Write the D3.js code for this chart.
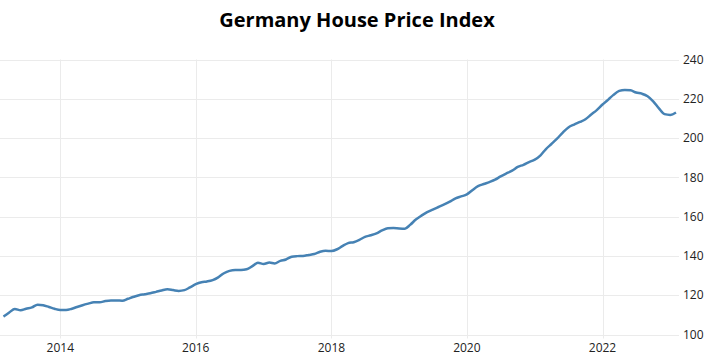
<!DOCTYPE html>
<html>
<head>
<meta charset="utf-8">
<script src="https://cdn.jsdelivr.net/npm/d3@7"></script>
<style>
  body { margin: 0; background: #fff; }
  svg { display: block; font-family: "Open Sans", "DejaVu Sans", sans-serif; }
  .grid line { stroke: #ebebeb; stroke-width: 1; }
  .axis text { fill: #222; font-size: 12px; }
</style>
</head>
<body>
<svg id="chart" width="707" height="360"></svg>
<script>
// monthly index, Mar 2013 .. Feb 2023
var startMonth = '2013-03';
var values = [
  109.1, 111.2, 113.0, 112.3, 113.1, 113.8, 115.2, 114.9, 114.0, 113.1,
  112.5, 112.5, 113.0, 114.0, 114.9, 115.7, 116.4, 116.4, 117.0, 117.3,
  117.3, 117.2, 118.2, 119.2, 120.0, 120.5, 121.0, 121.7, 122.4, 123.0,
  122.6, 122.2, 122.6, 124.0, 125.6, 126.6, 127.0, 127.7, 129.1, 131.2,
  132.4, 132.8, 132.8, 133.2, 134.8, 136.5, 135.9, 136.6, 136.2, 137.5,
  138.2, 139.6, 139.9, 140.0, 140.5, 141.0, 142.1, 142.6, 142.5, 143.4,
  145.0, 146.5, 147.0, 148.2, 149.7, 150.5, 151.5, 153.0, 154.1, 154.2,
  154.0, 153.9, 155.8, 158.5, 160.5, 162.3, 163.6, 164.9, 166.2, 167.6,
  169.3, 170.3, 171.3, 173.6, 175.5, 176.6, 177.6, 178.8, 180.5, 182.0,
  183.4, 185.3, 186.4, 187.8, 189.0, 191.2, 194.3, 197.0, 199.7, 202.8,
  205.4, 206.9, 208.2, 209.6, 212.0, 214.2, 217.1, 219.6, 222.0, 224.0,
  224.5, 224.3, 223.2, 222.6, 221.3, 218.7, 215.1, 212.2, 211.8, 213.0
];
var yTicks = [100, 120, 140, 160, 180, 200, 220, 240];
var xTickYears = [2014, 2016, 2018, 2020, 2022];

var svg = d3.select('#chart');
var parse = d3.timeParse('%Y-%m');
var first = parse(startMonth);

var data = values.map(function(v, i) {
  return { date: d3.timeMonth.offset(first, i), value: v };
});

var x = d3.scaleTime()
  .domain([data[0].date, data[data.length - 1].date])
  .range([3.5, 676]);

var y = d3.scaleLinear()
  .domain([100, 240])
  .range([334.5, 59.5]);

// title
svg.append('text')
  .attr('x', 357)
  .attr('y', 27)
  .attr('text-anchor', 'middle')
  .style('font-size', '20px')
  .style('font-weight', 'bold')
  .style('fill', '#000')
  .text('Germany House Price Index');

// grid
var grid = svg.append('g').attr('class', 'grid');
grid.selectAll('.h')
  .data(yTicks)
  .enter().append('line')
    .attr('x1', 0)
    .attr('x2', 679)
    .attr('y1', function(d) { return Math.round(y(d)) + 0.5; })
    .attr('y2', function(d) { return Math.round(y(d)) + 0.5; });

grid.selectAll('.v')
  .data(xTickYears)
  .enter().append('line')
    .attr('x1', function(d) { return Math.round(x(new Date(d, 0, 1))) + 0.5; })
    .attr('x2', function(d) { return Math.round(x(new Date(d, 0, 1))) + 0.5; })
    .attr('y1', y(240))
    .attr('y2', y(100) + 4);

// right axis labels
svg.append('g')
  .attr('class', 'axis')
  .selectAll('text')
  .data(yTicks)
  .enter().append('text')
    .attr('x', 683)
    .attr('y', function(d) { return y(d); })
    .attr('dy', '0.35em')
    .text(function(d) { return d; });

// bottom axis labels
svg.append('g')
  .attr('class', 'axis')
  .selectAll('text')
  .data(xTickYears)
  .enter().append('text')
    .attr('x', function(d) { return x(new Date(d, 0, 1)); })
    .attr('y', 352)
    .attr('text-anchor', 'middle')
    .text(function(d) { return d; });

// line
var line = d3.line()
  .x(function(d) { return x(d.date); })
  .y(function(d) { return y(d.value); })
  .curve(d3.curveMonotoneX);

svg.append('path')
  .datum(data)
  .attr('fill', 'none')
  .attr('stroke', '#4682b4')
  .attr('stroke-width', 2.5)
  .attr('stroke-linejoin', 'round')
  .attr('d', line);
</script>
</body>
</html>
